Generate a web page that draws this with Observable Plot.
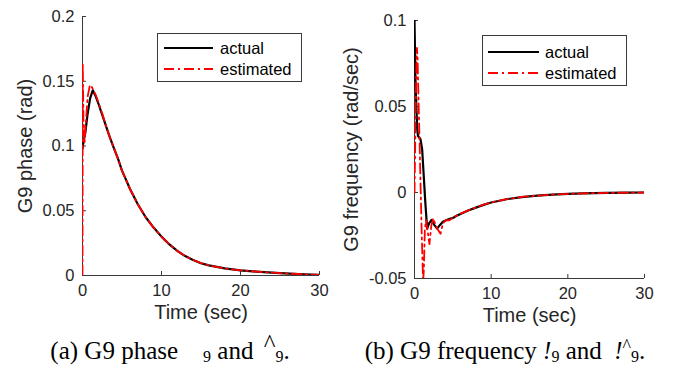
<!DOCTYPE html>
<html><head><meta charset="utf-8">
<script src="https://cdn.jsdelivr.net/npm/d3@7"></script>
<script src="https://cdn.jsdelivr.net/npm/@observablehq/plot@0.6"></script>
<style>
body{margin:0;background:#fff;}
#wrap{position:relative;width:674px;height:381px;overflow:hidden;background:#fff;font-family:"Liberation Sans",Arial,sans-serif;}
.panel{position:absolute;top:0;}
.legend{position:absolute;}
.caption{position:absolute;top:337px;font-family:"Liberation Serif","Times New Roman",serif;font-size:25px;color:#000;white-space:nowrap;text-align:center;}
.caption sub{font-size:16px;vertical-align:-3px;}
</style></head><body><div id="wrap"></div>
<script>
// ---- data ----
const xTicks = [0, 10, 20, 30];

// (a) phase
const phaseTicks = [0, 0.05, 0.1, 0.15, 0.2];
const phaseTickLabels = ["0", "0.05", "0.1", "0.15", "0.2"];
const phaseActualT = [0, 0.15, 0.35, 0.63, 0.97, 1.3, 1.7, 2, 2.5, 3, 3.5, 4, 4.5, 5, 5.5, 6, 7, 8, 9, 10, 11, 12, 13, 14, 15, 16, 18, 20, 22, 25, 28, 30];
const phaseActualV = [0.098, 0.104, 0.110, 0.124, 0.137, 0.143, 0.138, 0.133, 0.124, 0.115, 0.106, 0.098, 0.090, 0.081, 0.074, 0.067, 0.055, 0.045, 0.037, 0.030, 0.024, 0.019, 0.015, 0.012, 0.0095, 0.0078, 0.0055, 0.0040, 0.0030, 0.0018, 0.0009, 0.0005];
const phaseEstT = [0, 0.03, 0.12, 0.25, 0.4, 0.65, 0.9, 1.08, 1.3, 1.7, 2, 2.5, 3, 3.5, 4, 4.5, 5, 5.5, 6, 7, 8, 9, 10, 11, 12, 13, 14, 15, 16, 18, 20, 22, 25, 28, 30];
const phaseEstV = [0, 0.164, 0.120, 0.102, 0.116, 0.138, 0.146, 0.147, 0.144, 0.139, 0.134, 0.125, 0.115, 0.106, 0.098, 0.090, 0.081, 0.074, 0.067, 0.055, 0.045, 0.037, 0.030, 0.024, 0.019, 0.015, 0.012, 0.0095, 0.0078, 0.0055, 0.0040, 0.0030, 0.0018, 0.0009, 0.0005];

// (b) frequency
const freqTicks = [-0.05, 0, 0.05, 0.1];
const freqTickLabels = ["-0.05", "0", "0.05", "0.1"];
const freqActualT = [0, 0.13, 0.35, 0.45, 0.78, 1.0, 1.2, 1.4, 1.57, 1.65, 1.9, 2.2, 2.6, 2.95, 3.3, 3.7, 4.2, 4.7, 5, 5.5, 6, 7, 8, 9, 10, 12, 14, 16, 18, 20, 22, 25, 28, 30];
const freqActualV = [0.100, 0.064, 0.037, 0.033, 0.031, 0.025, 0.010, -0.005, -0.016, -0.021, -0.018, -0.016, -0.019, -0.021, -0.019, -0.017, -0.016, -0.0152, -0.0148, -0.0135, -0.0125, -0.0105, -0.0088, -0.0072, -0.0058, -0.0039, -0.0027, -0.0018, -0.0012, -0.0008, -0.0005, -0.0002, -0.0001, 0];
const freqEstT = [0, 0.1, 0.25, 0.32, 0.4, 0.5, 0.65, 0.78, 0.95, 1.12, 1.22, 1.35, 1.5, 1.7, 1.95, 2.2, 2.45, 2.75, 3.1, 3.4, 3.7, 4.1, 4.5, 5, 5.5, 6, 7, 8, 9, 10, 12, 14, 16, 18, 20, 22, 25, 28, 30];
const freqEstV = [0, 0.030, 0.075, 0.084, 0.078, 0.058, 0.032, 0.006, -0.025, -0.052, -0.045, -0.022, -0.016, -0.022, -0.030, -0.019, -0.015, -0.019, -0.022, -0.024, -0.018, -0.016, -0.0162, -0.0148, -0.0134, -0.0123, -0.0104, -0.0087, -0.0071, -0.0057, -0.0039, -0.0026, -0.0018, -0.0012, -0.0008, -0.0005, -0.0002, -0.0001, 0];

const seriesNames = ["actual", "estimated"];
const captionA = "(a) G9 phase";
const captionB = "(b) G9 frequency";
// ---------------------------------------

const toRows = (T, V) => T.map((t, i) => ({t, v: V[i]}));
const AX = "#3a3a3a";
const FONT = "'Liberation Sans', Arial, sans-serif";
const DASH = "10,4,2,4";

function panel({left, width, height, mt, mb, ml, mr, ydomain, yticks, ylabels, ylabel, ylabelDx, actual, est}) {
  const innerH = height - mt - mb, innerW = width - ml - mr;
  const tkY = (ydomain[1] - ydomain[0]) * 4 / innerH;
  const tkX = 30 * 4 / innerW;
  const fig = Plot.plot({
    width, height, marginTop: mt, marginBottom: mb, marginLeft: ml, marginRight: mr,
    x: {domain: [0, 30]},
    y: {domain: ydomain},
    style: {fontFamily: FONT, fontSize: "16.5px", color: "#262626", background: "transparent", overflow: "visible"},
    marks: [
      Plot.ruleY([ydomain[0]], {stroke: AX, strokeWidth: 1}),
      Plot.ruleX([0], {stroke: AX, strokeWidth: 1}),
      Plot.ruleX(xTicks, {y1: ydomain[0], y2: ydomain[0] + tkY, stroke: AX}),
      Plot.ruleY(yticks, {x1: 0, x2: tkX, stroke: AX}),
      Plot.axisX(xTicks, {tickSize: 0, tickPadding: 9, fontSize: 16.5, label: null, tickFormat: d => String(d)}),
      Plot.axisY(yticks, {tickSize: 0, tickPadding: 8, fontSize: 16.5, label: null, tickFormat: d => ylabels[yticks.indexOf(d)]}),
      Plot.line(toRows(...actual), {x: "t", y: "v", stroke: "#000", strokeWidth: 2.2, clip: true}),
      Plot.line(toRows(...est), {x: "t", y: "v", stroke: "#ff0000", strokeWidth: 1.8, strokeDasharray: DASH, clip: true}),
      Plot.text(["Time (sec)"], {frameAnchor: "bottom", textAnchor: "middle", dy: 43, fontSize: 20, fill: "#262626"}),
      Plot.text([ylabel], {frameAnchor: "left", textAnchor: "middle", dx: ylabelDx, rotate: -90, fontSize: 20, fill: "#262626"})
    ]
  });
  fig.classList.add("panel");
  fig.style.left = left + "px";
  return fig;
}

function legend({left, top, w, h, sx0, sx1, rows, tx}) {
  const svg = d3.create("svg").attr("class", "legend").attr("width", w).attr("height", h)
    .style("left", left + "px").style("top", top + "px");
  svg.append("rect").attr("x", 0.5).attr("y", 0.5).attr("width", w - 1).attr("height", h - 1)
    .attr("fill", "#fff").attr("stroke", AX);
  const styles = [{stroke: "#000", w: 2.2, dash: null}, {stroke: "#ff0000", w: 1.8, dash: DASH}];
  seriesNames.forEach((name, i) => {
    svg.append("line").attr("x1", sx0).attr("x2", sx1).attr("y1", rows[i]).attr("y2", rows[i])
      .attr("stroke", styles[i].stroke).attr("stroke-width", styles[i].w).attr("stroke-dasharray", styles[i].dash);
    svg.append("text").attr("x", tx).attr("y", rows[i]).attr("dy", "0.35em")
      .attr("font-family", FONT).attr("font-size", 16.5).attr("fill", "#000").text(name);
  });
  return svg.node();
}

const wrap = document.getElementById("wrap");
wrap.appendChild(panel({left: 0, width: 337, height: 320, mt: 16, mb: 45, ml: 82, mr: 18,
  ydomain: [0, 0.2], yticks: phaseTicks, ylabels: phaseTickLabels, ylabel: "G9 phase (rad)", ylabelDx: -57,
  actual: [phaseActualT, phaseActualV], est: [phaseEstT, phaseEstV]}));
wrap.appendChild(panel({left: 337, width: 337, height: 320, mt: 20, mb: 42, ml: 77, mr: 30,
  ydomain: [-0.05, 0.1], yticks: freqTicks, ylabels: freqTickLabels, ylabel: "G9 frequency (rad/sec)", ylabelDx: -63,
  actual: [freqActualT, freqActualV], est: [freqEstT, freqEstV]}));
wrap.appendChild(legend({left: 157, top: 33, w: 145, h: 49, sx0: 7, sx1: 56, rows: [15, 36], tx: 63}));
wrap.appendChild(legend({left: 482, top: 35, w: 145, h: 51, sx0: 6, sx1: 57, rows: [17, 38], tx: 63}));

const capA = document.createElement("div");
capA.className = "caption";
capA.style.left = "0px"; capA.style.width = "340px";
capA.innerHTML = captionA + " &nbsp;&nbsp;&nbsp;<sub>9</sub> and <span style='position:relative;top:-7px;margin-left:4px'>^</span><sub>9</sub>.";
wrap.appendChild(capA);
const capB = document.createElement("div");
capB.className = "caption";
capB.style.left = "337px"; capB.style.width = "336px";
capB.innerHTML = captionB + " <i>!</i><sub>9</sub> and&nbsp; <i>!</i><span style='position:relative;top:-7px;font-size:18px'>^</span><sub>9</sub>.";
wrap.appendChild(capB);
</script>
</body></html>
